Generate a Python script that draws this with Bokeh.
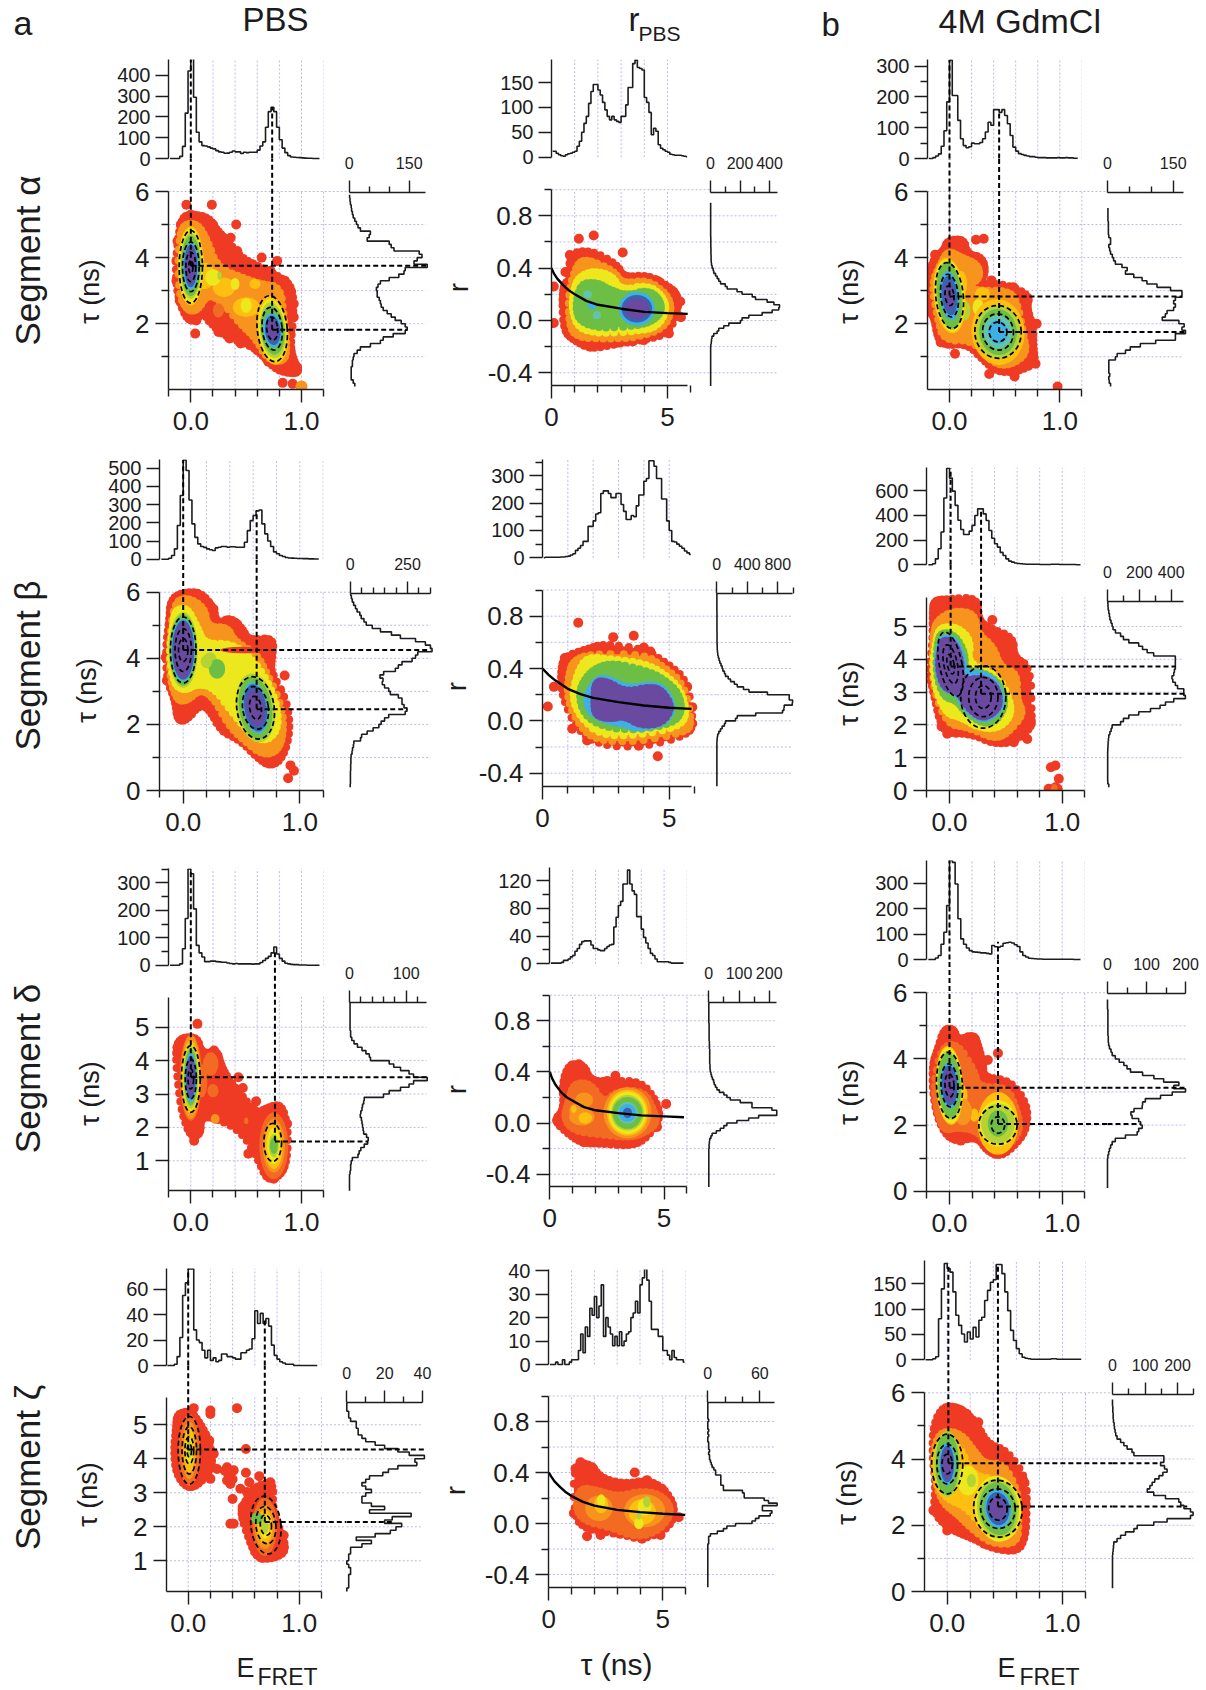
import math
import numpy as np
from bokeh.plotting import figure
from bokeh.models import Range1d, FixedTicker, Column
from bokeh.core.properties import value
from bokeh.embed import file_html
from bokeh.resources import INLINE

PALETTE = ["#EF3B24", "#F36B23", "#F7941E", "#FDC010", "#EDE81E", "#B5D334",
           "#6DBE45", "#62C4B0", "#3FB0E3", "#3A62B0", "#6A4AA0"]
FONT = "Liberation Sans"
GRID = "#b9b9ea"
INK = "#1c1c1c"

# ---------------------------------------------------------------- histograms
A1_top = [0,0,0,0,10,58,218,420,480,294,126,80,62,60,56,50,46,38,32,30,25,26,30,36,32,32,24,30,28,30,30,30,40,60,80,150,225,246,225,150,90,50,28,14,7,6,5,4,3,2,1,1,0,0,0]
A1_right = [14,10,5,5,5,5,8,8,10,12,20,28,53,78,85,110,140,145,140,130,115,105,95,85,80,78,75,70,70,68,72,78,100,124,137,140,195,162,170,182,175,112,105,100,45,50,53,28,22,18,14,10,8,6,5,3,2,1]
B1_top = [12,12,8,5,3,2,5,7,8,10,12,22,32,50,68,82,108,132,146,146,135,125,110,95,82,75,82,75,72,70,82,82,105,140,140,188,195,180,178,175,120,110,90,45,58,52,25,18,15,12,10,6,5,4,4,4,3,2,1]
B1_right = [1]*15 + [2,5,7,10,22,45,56,90,124,203,214,260,350,418,463,468,430,384,305,283,214,180,113,100,68,56,45,34,22,18,11,7,5,4,4,3,3,3,2,2,2,2,1,1,1,1,1,1,1,1,1,1,1,1,1]
C1_top = [0,0,3,8,15,40,90,184,320,205,205,124,64,42,35,38,50,48,48,52,64,86,118,108,159,159,150,159,140,113,75,37,24,16,13,10,8,6,6,4,3,3,3,2,2,2,2,3,2,2,3,2,2,1,1]
C1_right = [7,4,3,5,3,3,3,3,18,22,41,52,75,110,155,155,178,170,175,163,125,132,136,151,155,151,155,170,170,144,113,90,79,60,41,45,33,18,14,11,7,5,3,7,7,3,2,2,2,2,1,1,1,1]
A2_top = [0,0,0,5,20,57,185,350,545,487,325,194,120,84,70,65,57,52,48,62,66,70,70,66,68,68,66,66,66,93,157,212,240,265,270,194,139,100,70,40,30,20,15,9,7,6,5,4,4,3,3,2,2,1,1]
A2_right = [0,1,1,1,1,2,2,3,3,4,8,10,14,16,45,50,74,100,125,135,150,168,240,248,235,226,226,210,175,168,150,140,143,130,146,197,210,226,270,285,295,357,350,328,285,219,180,132,96,70,60,48,42,30,23,15,9,5,2]
B2_top = [0,2,2,2,2,2,2,3,3,5,6,10,15,27,35,45,60,60,115,115,135,160,165,235,245,245,235,220,220,235,235,195,170,140,140,155,150,190,230,230,280,290,355,355,335,290,290,215,215,135,100,60,58,50,42,35,25,18,12]
B2_right = [1]*17 + [3,6,12,26,48,70,100,114,246,268,510,862,880,884,990,994,950,950,664,422,350,268,230,180,150,114,100,80,70,55,40,30,20,13,9,6,5,4,3,3,3,3,2,2,2,2,2,2,2,2,1,1,1,1,1,1,1]
C2_top = [0,0,8,48,130,265,540,780,700,595,480,360,285,245,245,272,318,398,452,452,411,358,277,215,170,143,100,75,48,30,22,15,11,8,6,5,5,5,4,4,3,3,3,3,4,4,4,3,3,3,2,2,2,1,1]
C2_right = [8,2,1,1,1,1,1,1,1,1,1,2,3,4,6,8,15,23,29,82,100,134,196,270,330,364,416,489,479,479,440,426,410,405,416,420,426,426,426,426,290,249,220,196,134,100,82,50,35,29,22,15,12,8,4,3,2,1]
A3_top = [0,0,0,0,5,60,170,350,333,205,72,45,30,13,13,15,15,13,12,11,11,8,6,5,6,5,5,5,5,5,4,5,5,10,17,25,32,45,66,41,25,15,7,5,3,2,2,1,1,1,0,0,0,0,0]
A3_right = [0,0,0,0,0,1,2,2,3,5,15,17,20,26,32,33,30,25,24,23,22,21,19,20,22,23,25,26,60,70,90,105,113,137,113,105,90,78,70,37,35,29,22,14,8,4,2,2,1,1,1,1,1,1,1,1,1,1]
B3_top = [1,1,1,1,1,2,5,5,7,10,12,18,22,28,32,33,33,33,27,22,22,20,19,19,22,25,27,28,53,67,84,90,115,115,135,115,105,100,68,68,50,38,30,22,15,12,7,3,3,3,3,3,2,1,1,1,1,1,1]
B3_right = [0]*15 + [1,1,2,3,7,11,25,38,50,60,93,132,165,225,225,209,143,143,104,71,60,50,35,27,22,18,16,12,9,7,5,4,4,3,3,3,3,3,3,2,2,2,1,1,1,1,1,1,1,0,0,0,0,0,0,0,0,0]
C3_top = [0,0,0,6,16,60,107,212,390,382,297,160,81,60,45,35,30,29,28,26,26,24,22,55,50,48,52,64,66,68,65,58,51,30,16,10,5,4,3,2,2,1,1,1,1,1,1,1,1,1,1,1,0,0,0]
C3_right = [0,0,0,0,0,0,0,0,0,1,3,5,8,12,20,46,76,80,89,85,80,63,60,68,89,90,97,136,166,200,170,183,144,119,90,59,50,42,30,20,12,9,5,3,2,2,1,1,1,1,1,1,1,1,0,0,0]
A4_top = [0,0,0,1,7,22,55,65,76,76,28,20,18,12,6,12,4,6,3,4,9,9,7,7,6,5,5,10,10,12,13,21,43,33,41,33,37,31,16,8,5,3,2,1,1,1,0,0,0,0,0,0,0,0,0]
A4_right = [0,1,1,1,1,2,2,1,0,1,1,2,2,8,13,5,15,23,26,29,20,24,34,12,20,13,8,8,10,13,10,8,10,12,19,22,27,37,36,41,33,27,20,15,10,8,6,6,5,5,2,1,1,0,0,0,0]
B4_top = [0,0,0,1,0,0,2,0,0,1,2,2,2,6,13,5,16,12,24,21,29,20,25,34,12,20,16,13,8,12,8,14,8,10,13,14,20,22,27,22,34,37,41,36,27,15,15,15,12,12,6,6,4,2,6,3,2,2,2,1]
B4_right = [0]*17 + [1,1,1,3,11,18,22,32,51,55,59,72,74,63,63,80,70,65,42,42,40,18,18,15,15,15,15,9,9,7,5,4,3,2,2,1,2,1,1,1,0,0,1,0,1,0,0,0,1,0,0,0,0,0,0,0,0,0]
C4_top = [0,0,0,2,6,81,140,190,180,173,134,88,68,51,35,55,41,64,45,78,84,117,137,153,158,188,188,170,134,97,58,38,22,12,5,3,2,1,1,1,1,1,1,1,2,2,1,1,1,1,1,1,1,1,1]
C4_right = [0,0,0,0,0,0,0,0,0,0,1,2,3,4,14,25,40,66,76,127,168,240,248,240,220,210,204,163,127,107,115,122,130,143,155,168,160,148,158,158,66,60,45,35,25,14,10,8,6,5,3,2,2,1,1,0,0]

# ---------------------------------------------------------------- curves
B1_curve_t = [0,0.1,0.25,0.5,0.75,1,1.5,2,3,4,5,5.87]
B1_curve_r = [0.4,0.36,0.32,0.27,0.23,0.2,0.15,0.12,0.09,0.066,0.056,0.05]
B2_curve_t = [0,0.25,0.5,1,1.5,2,3,4,5,5.88]
B2_curve_r = [0.4,0.35,0.31,0.245,0.205,0.176,0.143,0.117,0.1,0.092]
B3_curve_t = [0,0.1,0.25,0.5,0.75,1,1.5,2,3,4,5,5.87]
B3_curve_r = [0.4,0.35,0.3,0.24,0.2,0.175,0.125,0.1,0.078,0.06,0.052,0.045]
B4_curve_t = [0,0.1,0.25,0.5,0.75,1,1.5,2,3,4,5,5.98]
B4_curve_r = [0.4,0.37,0.33,0.285,0.245,0.215,0.17,0.14,0.107,0.089,0.076,0.068]

# ---------------------------------------------------------------- density clouds
A1_polys = [(0,[(-.08,5.22),(.01,5.32),(.16,5.22),(.24,4.82),(.33,4.52),(.45,4.01),(.63,3.71),(.81,3.41),(.92,3.1),(.93,2.3),(.90,1.29),(.93,.89),(.98,.58),(.93,.48),(.78,.58),(.66,.99),(.57,1.29),(.33,1.59),(.21,1.9),(.09,2.4),(.06,2.1),(-.03,2.1),(-.11,2.7),(-.14,3.5),(-.12,4.52)]),
            (2,[(-.06,5.02),(.06,5.02),(.15,4.52),(.24,3.71),(.45,3.41),(.63,3.2),(.81,3.1),(.84,2.2),(.87,1.29),(.84,.84),(.69,.94),(.58,1.59),(.45,1.99),(.27,2.7),(.15,2.9),(.06,2.4),(-.03,2.4),(-.11,2.9),(-.11,4.52)])]
A1_spots = [(.12,3.45,.1,.4,3),(.3,3.1,.1,.3,3),(.5,2.5,.12,.3,3),(.2,3.4,.07,.25,4),(.4,3.2,.04,.18,4),(.5,2.55,.05,.22,4),(.26,3.45,.02,.12,5),(.25,2.4,.05,.22,1),(.58,3.2,.05,.15,3)]
A1_rings = [(0,3.75,0,[(3,.12,1.2),(4,.11,1.15),(5,.095,1.0),(6,.088,.92),(8,.07,.72),(9,.06,.65),(10,.05,.55)]),
            (.74,1.8,.1,[(3,.14,1.05),(4,.125,.95),(5,.115,.85),(6,.105,.74),(8,.085,.52),(9,.07,.45),(10,.05,.33)])]
A1_dots = [(-.04,5.6),(.19,5.6),(.41,5.0),(.64,4.0),(.78,3.9),(.04,1.7),(.83,.21),(.92,.18),(.96,.68),(.36,4.6),(.25,4.7),(.1,5.1),(.2,5.0),(.28,4.6),(.42,4.2),(.55,3.8),(.72,3.6),(.85,3.3),(.9,3.0),(.93,2.6),(.93,2.2),(.9,1.8),(.9,1.2),(.88,.95),(.8,.75),(.7,.85),(.6,1.2),(.45,1.4),(.35,1.55),(.25,1.75),(.17,2.1),(.1,2.5),(.05,2.1),(-.02,2.2),(-.1,2.7),(-.13,3.3),(-.13,3.9),(-.12,4.5),(-.09,5.0),(0,5.3)]
A1_hot = [(1.0,.1)]
A1_contours = [(0,3.72,0,[(.105,1.1),(.075,.75),(.045,.45),(.02,.2)]),(.735,1.85,.1,[(.135,1.0),(.09,.65),(.05,.35)])]
A1_vlines = [(0,3.75,474),(.735,1.82,246)]
A1_hlines = [(3.75,0,195),(1.82,.735,145)]

B1_polys = [(0,[(.75,.51),(1.68,.54),(2.82,.43),(3.11,.33),(4.13,.35),(5.06,.26),(5.42,.2),(5.49,.1),(5.06,-.1),(3.98,-.15),(2.82,-.18),(1.68,-.22),(.96,-.15),(.53,-.08),(.46,.15),(.53,.28),(.82,.31)]),
            (2,[(1.1,.43),(1.53,.47),(2.68,.38),(3.04,.28),(4.13,.31),(4.98,.2),(5.19,.08),(4.83,-.06),(3.68,-.13),(2.39,-.14),(1.1,-.13),(.75,-.03),(.75,.23)]),
            (4,[(1.18,.33),(1.82,.38),(2.61,.34),(2.97,.23),(4.13,.27),(4.76,.19),(4.97,.08),(4.54,-.05),(3.68,-.08),(2.11,-.1),(1.18,-.06),(.89,.08),(.96,.23)]),
            (6,[(1.25,.28),(1.96,.29),(2.54,.23),(3.25,.19),(4.13,.23),(4.62,.17),(4.76,.08),(4.4,0),(3.68,-.04),(2.11,-.06),(1.25,-.01),(1.03,.1)])]
B1_spots = [(1.56,.2,.18,.03,7),(1.75,.115,.2,.03,8),(1.96,.04,.18,.03,7)]
B1_rings = [(3.68,.09,0,[(8,.78,.13),(9,.66,.105),(10,.52,.08)])]
B1_dots = [(1.18,.625),(1.82,.65),(3.07,.52),(.79,.5),(.6,.37),(.1,.26),(.1,-.02),(5.55,.145),(5.58,.025),(1.68,-.2),(5.06,-.1),(4.13,.32),(2.54,.42),(.53,.15),(.67,-.08),(1.25,-.14),(2.82,-.17),(3.98,-.15),(5.19,.2),(2.11,.43),(1.39,.51),(4.6,.3),(3.4,.3),(3.5,-.16)]
B1_hot = []
B1_contours = []
B1_vlines = []
B1_hlines = []

C1_polys = [(0,[(-.02,4.52),(.13,4.57),(.16,4.11),(.3,4.01),(.33,3.51),(.25,3.2),(.52,3.2),(.73,2.85),(.7,2.5),(.76,1.9),(.76,1.29),(.78,.79),(.61,.54),(.43,.54),(.31,.89),(.16,1.39),(-.05,1.34),(-.11,1.59),(-.14,2.2),(-.19,2.4),(-.19,3.4),(-.14,4.01),(-.05,4.21)]),
            (2,[(-.01,4.21),(.1,4.01),(.25,3.81),(.28,3.41),(.16,3.11),(.25,3.0),(.52,3.0),(.61,2.7),(.67,1.69),(.7,1.09),(.55,.74),(.4,.79),(.22,1.49),(-.05,1.49),(-.11,2.2),(-.16,3.21),(-.08,3.81)])]
C1_spots = [(.26,2.5,.05,.25,4),(.14,2.4,.05,.3,5),(.3,2.9,.07,.2,3),(.1,3.2,.06,.4,3)]
C1_rings = [(0,2.85,.1,[(3,.145,1.15),(4,.135,1.1),(5,.12,1.05),(6,.11,1.0),(8,.085,.75),(9,.07,.6),(10,.045,.4)]),
            (.44,1.75,.1,[(3,.24,1.0),(5,.2,.82),(6,.17,.7),(7,.13,.5),(8,.09,.36)])]
C1_dots = [(-.13,4.09),(.31,4.57),(.24,4.54),(.38,3.31),(.79,2.0),(.05,1.09),(.36,.48),(.59,.4),(.78,.79),(.98,.1),(.7,2.75),(.58,3.1),(.3,3.81),(.13,4.4),(-.19,2.43),(-.08,1.44)]
C1_hot = []
C1_contours = [(0,2.85,.1,[(.125,1.0),(.08,.65),(.04,.3)]),(.44,1.75,.1,[(.21,.8),(.14,.55),(.08,.3)])]
C1_vlines = [(0,2.85,320),(.45,1.75,159)]
C1_hlines = [(2.82,0,170),(1.75,.45,178)]

A2_polys = [(0,[(-.11,5.75),(-.01,6.0),(.15,6.0),(.26,5.54),(.29,5.04),(.41,5.24),(.51,4.89),(.56,4.54),(.78,4.64),(.76,3.93),(.75,3.63),(.89,2.72),(.92,1.81),(.86,1.01),(.75,.71),(.63,1.01),(.49,1.51),(.32,1.81),(.23,2.42),(.15,2.62),(.03,2.12),(-.05,2.12),(-.07,2.72),(-.14,3.33),(-.15,4.33),(-.12,5.14)]),
            (2,[(-.08,5.65),(.03,5.85),(.18,5.54),(.21,4.94),(.38,4.94),(.43,4.54),(.63,4.13),(.72,3.53),(.85,2.52),(.86,1.71),(.81,1.21),(.69,1.06),(.52,1.51),(.38,2.02),(.26,2.82),(.15,3.07),(.03,2.72),(-.05,2.72),(-.11,3.33),(-.12,4.33)]),
            (4,[(-.07,5.44),(.03,5.54),(.12,4.94),(.18,4.44),(.41,4.44),(.58,4.03),(.72,3.33),(.81,2.52),(.81,1.81),(.69,1.46),(.55,1.81),(.41,2.42),(.26,3.13),(.12,3.23),(.01,3.02),(-.08,3.23),(-.12,4.13),(-.09,4.94)])]
A2_spots = [(.23,3.93,.06,.25,5),(.29,3.68,.07,.3,6),(.2,3.9,.05,.2,5),(.5,4.25,.18,.1,0)]
A2_rings = [(0,4.25,0,[(5,.125,1.15),(6,.115,1.08),(8,.1,.95),(9,.095,.9),(10,.085,.85)]),
            (.62,2.5,.15,[(5,.165,1.05),(6,.14,.95),(8,.105,.78),(9,.095,.72),(10,.075,.55)])]
A2_dots = [(-.02,2.22),(.87,3.48),(.89,1.71),(.92,.76),(.95,.6),(.9,.37),(.63,4.54),(.72,4.54),(-.01,2.17),(.12,5.95),(.22,5.65),(.38,5.14),(.46,5.04),(.26,5.49),(.83,3.0),(.85,2.52),(.76,.86),(.86,1.41),(-.15,4.03),(-.14,3.33),(-.11,5.09),(.35,1.81)]
A2_hot = []
A2_contours = [(0,4.25,0,[(.11,1.0),(.07,.65),(.04,.35)]),(.62,2.5,.15,[(.16,.95),(.11,.65),(.05,.35)])]
A2_vlines = [(0,4.25,545),(.63,2.47,270)]
A2_hlines = [(4.25,0,350),(2.46,.63,248)]

B2_polys = [(0,[(.84,.49),(1.76,.55),(2.42,.59),(4.0,.55),(4.92,.44),(5.71,.31),(5.97,-.02),(5.71,-.11),(4.0,-.2),(2.29,-.19),(1.37,-.07),(.78,.18),(.71,.36)]),
            (2,[(1.24,.46),(1.89,.51),(4.0,.51),(4.79,.41),(5.58,.28),(5.91,-.02),(5.58,-.09),(3.74,-.16),(2.16,-.15),(1.5,-.05),(.97,.16),(1.04,.36)]),
            (4,[(1.76,.49),(2.82,.47),(4.0,.44),(4.79,.36),(5.45,.24),(5.71,.05),(5.32,-.05),(3.74,-.11),(2.29,-.11),(1.5,.03),(1.17,.18),(1.37,.36)]),
            (6,[(2.16,.41),(2.82,.44),(4.0,.39),(4.79,.32),(5.38,.21),(5.51,.07),(5.12,-.02),(3.74,-.07),(2.42,-.05),(1.63,.05),(1.43,.21),(1.7,.33)]),
            (8,[(2.16,.32),(2.55,.32),(3.47,.245),(4.26,.28),(4.79,.245),(5.18,.105),(4.79,-.02),(3.74,-.06),(3.21,-.02),(2.55,0),(1.89,.065),(1.7,.18)]),
            (10,[(2.09,.3),(2.55,.3),(3.28,.22),(4.26,.26),(4.72,.23),(5.12,.105),(4.72,-.02),(3.87,-.035),(3.21,.04),(2.68,.015),(2.09,.04),(2.03,.155)])]
B2_spots = []
B2_rings = []
B2_dots = [(1.41,.75),(2.79,.64),(3.6,.65),(.88,.48),(4.0,.56),(4.26,.53),(4.95,.41),(.21,.11),(.45,.26),(1.17,-.06),(4.55,-.27),(5.71,.26),(5.91,.105),(5.91,-.02),(3.8,-.19),(2.95,-.15),(1.76,-.15),(.84,.36),(.97,.18)]
B2_hot = []
B2_contours = []
B2_vlines = []
B2_hlines = []

C2_polys = [(0,[(-.14,5.79),(-.02,5.84),(.25,5.89),(.26,5.18),(.34,4.98),(.57,4.67),(.57,4.07),(.72,3.76),(.73,2.24),(.73,1.93),(.57,1.47),(.39,1.42),(.19,1.73),(-.02,1.73),(-.09,2.14),(-.14,2.95),(-.18,3.56),(-.15,4.57),(-.15,5.39)]),
            (2,[(-.11,5.18),(.04,5.49),(.22,5.39),(.25,4.78),(.39,4.37),(.45,3.76),(.6,3.56),(.6,2.74),(.66,2.34),(.51,1.73),(.39,1.58),(.16,1.93),(-.02,2.03),(-.14,3.05),(-.15,4.06),(-.14,4.78)]),
            (4,[(-.08,4.98),(.07,4.98),(.19,4.57),(.16,3.86),(.42,3.56),(.54,2.74),(.54,2.24),(.42,1.88),(.25,1.93),(.1,2.24),(-.02,2.34),(-.11,2.95),(-.15,3.76),(-.12,4.57)]),
            (6,[(-.07,4.83),(.05,4.73),(.14,4.17),(.13,3.66),(.3,3.61),(.45,3.25),(.5,2.64),(.42,2.13),(.3,2.03),(.14,2.39),(.07,2.74),(-.05,2.85),(-.12,3.56),(-.11,4.47)]),
            (8,[(-.05,4.67),(.05,4.57),(.11,4.06),(.13,3.56),(.3,3.56),(.42,3.25),(.47,2.64),(.39,2.29),(.28,2.15),(.14,2.54),(.07,3.0),(-.05,3.1),(-.11,3.76),(-.09,4.37)]),
            (10,[(-.05,4.6),(.04,4.51),(.1,3.96),(.1,3.35),(.29,3.43),(.41,3.2),(.45,2.64),(.38,2.34),(.28,2.21),(.16,2.54),(.08,3.03),(-.05,3.13),(-.1,3.76),(-.08,4.32)])]
C2_spots = [(.93,.05,.03,.15,1)]
C2_rings = []
C2_dots = [(.38,5.2),(.54,4.57),(.48,4.62),(-.07,5.69),(.22,5.74),(.16,5.69),(-.07,1.95),(-.02,1.73),(.57,1.47),(.69,1.57),(.69,2.29),(.69,1.98),(.94,.76),(.9,.71),(.94,.1),(.96,.05),(.88,.05),(.69,3.4),(.63,3.91),(.57,1.98),(.97,.36)]
C2_hot = []
C2_contours = [(.01,3.85,.2,[(.1,1.0),(.06,.6),(.03,.3)]),(.3,2.85,0,[(.2,.95),(.13,.6),(.07,.35)])]
C2_vlines = [(.01,3.8,780),(.28,2.95,452)]
C2_hlines = [(3.78,.01,426),(2.95,.28,489)]

A3_polys = [(0,[(-.08,4.7),(.06,4.7),(.1,4.2),(.24,4.3),(.27,3.9),(.33,3.5),(.45,3.0),(.6,2.4),(.69,2.6),(.82,2.7),(.88,2.0),(.87,1.0),(.81,.55),(.69,.4),(.6,1.1),(.45,1.9),(.21,2.3),(.09,2.3),(.09,1.8),(0,1.7),(-.08,2.4),(-.12,3.4),(-.14,4.4)])]
A3_spots = [(.18,3.9,.07,.35,1),(.2,3.1,.05,.2,1),(.22,2.25,.04,.15,2),(.5,2.2,.02,.1,1),(.1,3.4,.05,.5,1)]
A3_rings = [(0,3.5,0,[(1,.1,1.3),(2,.09,1.25),(3,.085,1.1),(4,.075,1.0),(5,.07,.95),(6,.06,.85),(8,.05,.75),(9,.045,.65),(10,.035,.55)]),
            (.75,1.45,0,[(1,.13,1.0),(2,.1,.8),(3,.08,.7),(4,.06,.55),(5,.045,.35),(6,.035,.25)])]
A3_dots = [(.06,5.1),(.03,1.6),(.43,3.5),(.47,3.18),(.59,2.78),(.52,1.21),(.21,2.31),(.22,2.86),(.09,4.3),(.21,4.3),(.39,2.7),(.57,2.21),(.75,.46),(.87,2.11),(-.06,4.4),(-.12,4.4)]
A3_hot = []
A3_contours = [(0,3.45,0,[(.085,1.0),(.05,.6),(.025,.3)]),(.74,1.55,0,[(.08,.57)])]
A3_vlines = [(0,3.5,350),(.76,1.6,50)]
A3_hlines = [(3.5,0,137),(1.58,.76,33)]

B3_polys = [(0,[(.83,.46),(1.49,.46),(1.78,.33),(2.65,.33),(3.97,.33),(4.69,.17),(4.84,.02),(4.11,-.14),(3.38,-.18),(2.22,-.16),(1.49,-.16),(.9,-.1),(.17,.02),(.61,.1),(.54,.31)]),
            (1,[(1.05,.31),(1.78,.31),(2.36,.15),(2.94,.25),(4.11,.25),(4.55,.1),(4.69,-.01),(3.97,-.09),(3.38,-.11),(2.22,-.09),(1.05,-.06),(.61,.04),(.83,.17)])]
B3_spots = [(1.4,.05,.55,.07,2),(1.5,.18,.4,.06,2),(1.1,.1,.25,.05,2),(1.55,.04,.3,.045,3),(1.05,.11,.12,.03,3)]
B3_rings = [(3.4,.08,0,[(2,1.05,.2),(3,.9,.18),(4,.82,.165),(5,.72,.14),(6,.65,.125),(7,.45,.085),(8,.38,.07),(9,.2,.04)])]
B3_dots = [(2.87,.37),(5.09,.15),(.32,.02),(1.27,.46),(.98,.45),(.69,.31),(1.49,-.15),(2.22,-.15),(3.38,-.15),(4.69,-.03),(4.69,.07),(2.51,.33)]
B3_hot = []
B3_contours = []
B3_vlines = []
B3_hlines = []

C3_polys = [(0,[(-.05,4.91),(.04,4.91),(.07,4.56),(.22,4.76),(.26,4.35),(.3,3.85),(.3,3.45),(.54,3.35),(.69,2.64),(.69,1.94),(.6,1.44),(.45,1.03),(.33,1.23),(.25,1.63),(.1,1.53),(-.02,1.63),(-.11,2.24),(-.15,3.05),(-.15,3.85),(-.11,4.25)]),
            (1,[(-.07,4.35),(.07,4.46),(.22,3.65),(.25,3.15),(.51,3.15),(.6,2.44),(.63,1.83),(.51,1.33),(.36,1.28),(.25,1.83),(.07,1.94),(-.05,1.83),(-.11,2.44),(-.14,3.25)])]
C3_spots = [(.22,2.3,.04,.2,3),(.12,2.9,.04,.3,3),(.12,2.4,.08,.4,2)]
C3_rings = [(0,3.2,.05,[(3,.12,1.2),(4,.115,1.15),(5,.105,1.05),(6,.1,.98),(8,.08,.7),(9,.07,.6),(10,.05,.5)]),
            (.43,2.05,0,[(3,.18,.95),(4,.165,.7),(5,.15,.6),(6,.09,.4)])]
C3_dots = [(-.01,4.81),(.22,4.61),(.23,4.35),(.34,3.97),(.43,4.17),(.66,2.54),(.63,1.68),(.45,1.18),(.05,1.58),(.1,1.53),(.51,3.25),(.33,3.25),(.07,4.56)]
C3_hot = []
C3_contours = [(0,3.2,.05,[(.115,1.0),(.075,.65),(.04,.35)]),(.43,2,0,[(.17,.58),(.06,.25)])]
C3_vlines = [(0,3.15,390),(.43,2.03,70)]
C3_hlines = [(3.13,0,200),(2.03,.43,85)]

A4_polys = [(0,[(-.1,5.32),(.02,5.42),(.11,5.03),(.19,4.54),(.23,3.85),(.11,3.26),(-.01,3.12),(-.11,3.56),(-.13,4.25),(-.11,4.93)]),
            (0,[(.59,3.17),(.77,3.36),(.76,2.48),(.83,1.89),(.89,1.3),(.77,1.06),(.62,1.06),(.55,1.6),(.47,2.38),(.5,2.68)])]
A4_spots = []
A4_rings = [(.01,4.25,0,[(1,.1,1.05),(2,.07,.85),(3,.05,.65),(4,.03,.4),(5,.02,.25)]),
            (.69,2.0,0,[(1,.11,.85),(2,.09,.65),(3,.07,.5),(4,.04,.35),(5,.035,.2)])]
A4_dots = [(.05,5.49),(.2,5.42),(.44,5.49),(.2,5.32),(.52,4.29),(.2,3.41),(.19,4.54),(.23,4.15),(.22,3.75),(.26,3.7),(.35,3.75),(.41,3.66),(.35,3.36),(.38,3.26),(.52,3.59),(.64,3.49),(.55,3.31),(.47,3.12),(.53,3.02),(.4,2.82),(.49,2.58),(.38,2.09),(.41,2.09),(.86,1.75),(.85,1.3),(.66,1.09),(.74,3.31),(.17,3.75),(.36,3.55),(.4,3.4),(.38,3.6),(.33,3.65)]
A4_hot = [(.62,2.25)]
A4_contours = [(.01,4.25,0,[(.1,1.0),(.065,.7),(.04,.4),(.02,.2)]),(.7,2.05,.1,[(.135,.85),(.09,.55),(.05,.3)])]
A4_vlines = [(0,4.25,76),(.69,2.15,37)]
A4_hlines = [(4.27,0,41),(2.14,.69,24)]

B4_polys = [(0,[(1.1,.47),(1.83,.47),(2.27,.36),(3.29,.31),(4.31,.34),(5.04,.28),(5.56,.13),(5.34,-.03),(4.17,-.13),(3.0,-.08),(1.68,-.05),(1.1,.05)]),
            (1,[(1.39,.28),(2.12,.26),(3.0,.21),(4.17,.26),(5.04,.21),(5.41,.1),(4.9,-.05),(3.87,-.11),(2.7,-.03),(1.54,.02),(1.17,.13)])]
B4_spots = [(2.2,.12,.6,.1,2),(4.2,.1,.9,.13,2),(2.3,.15,.3,.07,3),(4.1,.09,.6,.1,3),(2.3,.18,.18,.05,4),(4.2,.13,.3,.07,4),(3.95,0,.2,.045,4),(4.3,.17,.17,.045,5),(3.95,.06,.1,.03,5)]
B4_rings = []
B4_dots = [(1.39,.48),(1.17,.43),(1.9,.44),(4.31,.34),(3.77,.4),(1.1,.08),(1.68,-.1),(2.27,-.09),(4.09,-.12),(5.7,.05),(4.9,-.09),(4.97,.27),(5.34,.13),(1.54,.36),(2.7,.31),(3.0,-.07)]
B4_hot = []
B4_contours = []
B4_vlines = []
B4_hlines = []

C4_polys = [(0,[(-.03,5.61),(.09,5.56),(.16,5.41),(.26,5.06),(.35,4.46),(.52,4.26),(.69,3.4),(.69,2.45),(.68,1.64),(.61,1.19),(.4,1.29),(.26,1.54),(.12,1.74),(0,1.94),(-.12,2.39),(-.1,3.24),(-.13,4.14),(-.12,5.06)]),
            (2,[(-.04,4.86),(.12,4.76),(.23,4.26),(.32,3.85),(.49,3.85),(.61,3.05),(.62,2.24),(.61,1.44),(.38,1.44),(.2,1.94),(.09,2.34),(-.03,2.65),(-.1,3.25),(-.12,4.36)]),
            (3,[(-.06,4.56),(.12,4.36),(.2,3.55),(.43,3.35),(.58,2.85),(.61,1.94),(.49,1.64),(.35,1.74),(.17,2.55),(0,2.8),(-.09,3.25),(-.12,3.95)])]
C4_spots = [(.18,3.35,.09,.45,4),(.21,3.35,.04,.2,5)]
C4_rings = [(0,3.85,0,[(5,.115,1.0),(6,.1,.95),(8,.07,.65),(9,.06,.55),(10,.045,.45)]),
            (.44,2.5,.12,[(4,.2,1.0),(5,.18,.9),(6,.16,.8),(8,.115,.6),(9,.1,.5),(10,.07,.35)])]
C4_dots = [(.27,5.11),(.32,4.41),(.17,5.36),(.09,5.36),(.66,3.35),(.68,2.65),(-.09,4.96),(-.12,2.45),(0,1.84),(.12,1.79),(.49,1.29),(.32,1.44),(.66,1.94)]
C4_hot = []
C4_contours = [(0,3.85,0,[(.135,.9),(.09,.6),(.045,.3)]),(.44,2.5,.12,[(.21,.86),(.15,.6),(.08,.35)])]
C4_vlines = [(.01,3.87,190),(.44,2.57,188)]
C4_hlines = [(3.87,.01,148),(2.57,.44,230)]

# ---------------------------------------------------------------- ticks
E_TICKS = ([0, 1], [-.2, .2, .4, .6, .8, 1.2], {0: "0.0", 1: "1.0"})
E_GRID = [0, .2, .4, .6, .8, 1, 1.2]
T_TICKS = ([0, 5], [1, 2, 3, 4, 6], {0: "0", 5: "5"})
T_GRID = [1, 2, 3, 4, 5, 6]
R_TICKS = ([.8, .4, 0, -.4], [1, .6, .2, -.2], {.8: "0.8", .4: "0.4", 0: "0.0", -.4: "-0.4"})
R_GRID = [1, .8, .6, .4, .2, 0, -.2, -.4]
TAU_EVEN = ([0, 2, 4, 6], [1, 3, 5], {0: "0", 2: "2", 4: "4", 6: "6"})
TAU_05 = ([0, 1, 2, 3, 4, 5], [], {i: str(i) for i in range(6)})
TAU_15 = ([1, 2, 3, 4, 5], [], {i: str(i) for i in range(1, 6)})
TAU_GRID = [1, 2, 3, 4, 5, 6]

def counts(major, minor=()):
    return (major, list(minor), {v: str(v) for v in major})

PANELS = [
 dict(n="A1", x=(0,190.3,1,301), xlim=(-.2,1.2), y=(0,389.3,6,191), ylim=(0,6), xt=E_TICKS, xg=E_GRID, yt=TAU_EVEN, yg=TAU_GRID,
      h=(0,158,400,74.7), htop=59.3, hs=-.2, hd=.025, ht=counts([0,100,200,300,400]),
      r=(0,348.7,150,408.7), rend=425.3, rY=192.3, rs=.1, rd=.1, rt=counts([0,150],[50,100]),
      top=A1_top, right=A1_right, P=(A1_polys,A1_spots,A1_rings,A1_dots,A1_hot,A1_contours,A1_vlines,A1_hlines)),
 dict(n="B1", x=(0,551,5,667), xlim=(0,5.87), y=(.8,215.3,-.4,372.3), ylim=(-.5,1), xt=T_TICKS, xg=T_GRID, yt=R_TICKS, yg=R_GRID,
      h=(0,156.7,150,82), htop=59.3, hs=0, hd=.1, ht=counts([0,50,100,150]),
      r=(0,710,400,769), rend=776.7, rY=192.3, rs=-.5, rd=.02, rt=counts([0,200,400],[100,300]),
      top=B1_top, right=B1_right, curve=(B1_curve_t,B1_curve_r), P=(B1_polys,B1_spots,B1_rings,B1_dots,B1_hot,B1_contours,B1_vlines,B1_hlines)),
 dict(n="C1", x=(0,949,1,1059.3), xlim=(-.2,1.2), y=(0,389.3,6,191), ylim=(0,6), xt=E_TICKS, xg=E_GRID, yt=TAU_EVEN, yg=TAU_GRID,
      h=(0,158,300,65.7), htop=59.3, hs=-.2, hd=.025, ht=counts([0,100,200,300],[50,150,250]),
      r=(0,1107,150,1172.7), rend=1183.3, rY=192.3, rs=.1, rd=.1, rt=counts([0,150],[50,100]),
      top=C1_top, right=C1_right, P=(C1_polys,C1_spots,C1_rings,C1_dots,C1_hot,C1_contours,C1_vlines,C1_hlines)),
 dict(n="A2", x=(0,182.7,1,299.3), xlim=(-.2,1.2), y=(0,790,6,591.7), ylim=(0,6), xt=E_TICKS, xg=E_GRID, yt=TAU_EVEN, yg=TAU_GRID,
      h=(0,558.7,500,467.7), htop=459.3, hs=-.2, hd=.025, ht=counts([0,100,200,300,400,500]),
      r=(0,349.7,250,407), rend=430, rY=593.3, rs=.1, rd=.1, rt=counts([0,250],[50,100,150,200,300,350]),
      top=A2_top, right=A2_right, P=(A2_polys,A2_spots,A2_rings,A2_dots,A2_hot,A2_contours,A2_vlines,A2_hlines)),
 dict(n="B2", x=(0,542,5,668.7), xlim=(0,5.88), y=(.8,615.7,-.4,772.7), ylim=(-.5,1), xt=T_TICKS, xg=T_GRID, yt=R_TICKS, yg=R_GRID,
      h=(0,557.3,300,475.3), htop=459.3, hs=0, hd=.1, ht=counts([0,100,200,300],[50,150,250,350]),
      r=(0,716.3,800,777.3), rend=791.7, rY=593.3, rs=-.5, rd=.02, rt=counts([0,400,800],[200,600,1000]),
      top=B2_top, right=B2_right, curve=(B2_curve_t,B2_curve_r), P=(B2_polys,B2_spots,B2_rings,B2_dots,B2_hot,B2_contours,B2_vlines,B2_hlines)),
 dict(n="C2", x=(0,949,1,1061.7), xlim=(-.2,1.2), y=(0,790,5,626), ylim=(0,5.89), xt=E_TICKS, xg=E_GRID, yt=TAU_05, yg=[1,2,3,4,5],
      h=(0,564.3,600,490), htop=467.3, hs=-.2, hd=.025, ht=counts([0,200,400,600]),
      r=(0,1107,400,1170.7), rend=1183.3, rY=601, rs=.1, rd=.1, rt=counts([0,200,400],[100,300]),
      top=C2_top, right=C2_right, P=(C2_polys,C2_spots,C2_rings,C2_dots,C2_hot,C2_contours,C2_vlines,C2_hlines)),
 dict(n="A3", x=(0,190.3,1,301), xlim=(-.2,1.2), y=(1,1160.3,5,1026.7), ylim=(.11,5.9), xt=E_TICKS, xg=E_GRID, yt=TAU_15, yg=[1,2,3,4,5],
      h=(0,964.7,300,882.3), htop=868.3, hs=-.2, hd=.025, ht=counts([0,100,200,300],[50,150,250,350]),
      r=(0,349,100,405.7), rend=425.7, rY=1001.7, rs=.1, rd=.1, rt=counts([0,100],[20,40,60,80,120]),
      top=A3_top, right=A3_right, P=(A3_polys,A3_spots,A3_rings,A3_dots,A3_hot,A3_contours,A3_vlines,A3_hlines)),
 dict(n="B3", x=(0,549.3,5,663.6), xlim=(0,6), y=(.8,1020.3,-.4,1173.7), ylim=(-.5,1), xt=T_TICKS, xg=T_GRID, yt=R_TICKS, yg=R_GRID,
      h=(0,963.3,120,880), htop=867.3, hs=0, hd=.1, ht=counts([0,40,80,120],[20,60,100]),
      r=(0,708.3,200,768.7), rend=775.7, rY=1001.7, rs=-.5, rd=.02, rt=counts([0,100,200],[50,150]),
      top=B3_top, right=B3_right, curve=(B3_curve_t,B3_curve_r), P=(B3_polys,B3_spots,B3_rings,B3_dots,B3_hot,B3_contours,B3_vlines,B3_hlines)),
 dict(n="C3", x=(0,949,1,1061.7), xlim=(-.2,1.2), y=(0,1190.7,6,992.3), ylim=(0,6), xt=E_TICKS, xg=E_GRID, yt=TAU_EVEN, yg=TAU_GRID,
      h=(0,959,300,882.7), htop=860, hs=-.2, hd=.025, ht=counts([0,100,200,300]),
      r=(0,1107,200,1185), rend=1185, rY=993.3, rs=.1, rd=.1, rt=counts([0,100,200],[50,150]),
      top=C3_top, right=C3_right, P=(C3_polys,C3_spots,C3_rings,C3_dots,C3_hot,C3_contours,C3_vlines,C3_hlines)),
 dict(n="A4", x=(0,187.7,1,298.7), xlim=(-.2,1.2), y=(1,1560.3,5,1424.3), ylim=(.106,5.8), xt=E_TICKS, xg=E_GRID, yt=TAU_15, yg=[1,2,3,4,5],
      h=(0,1365,60,1288.7), htop=1268.3, hs=-.2, hd=.025, ht=counts([0,20,40,60]),
      r=(0,346.3,40,422), rend=422, rY=1402.3, rs=.1, rd=.1, rt=counts([0,20,40],[10,30]),
      top=A4_top, right=A4_right, P=(A4_polys,A4_spots,A4_rings,A4_dots,A4_hot,A4_contours,A4_vlines,A4_hlines)),
 dict(n="B4", x=(0,548.3,5,662.3), xlim=(0,6), y=(.8,1421,-.4,1574), ylim=(-.5,1), xt=T_TICKS, xg=T_GRID, yt=R_TICKS, yg=R_GRID,
      h=(0,1364,40,1270.3), htop=1269.3, hs=0, hd=.1, ht=counts([0,10,20,30,40]),
      r=(0,707.3,60,759.3), rend=774.3, rY=1401.7, rs=-.5, rd=.02, rt=counts([0,60],[20,40]),
      top=B4_top, right=B4_right, curve=(B4_curve_t,B4_curve_r), P=(B4_polys,B4_spots,B4_rings,B4_dots,B4_hot,B4_contours,B4_vlines,B4_hlines)),
 dict(n="C4", x=(0,946.7,1,1062), xlim=(-.2,1.2), y=(0,1591,6,1392.3), ylim=(0,6), xt=E_TICKS, xg=E_GRID, yt=TAU_EVEN, yg=TAU_GRID,
      h=(0,1359.3,150,1283.3), htop=1260, hs=-.2, hd=.025, ht=counts([0,50,100,150]),
      r=(0,1112,200,1177), rend=1192.7, rY=1394, rs=.1, rd=.1, rt=counts([0,100,200],[50,150,250]),
      top=C4_top, right=C4_right, P=(C4_polys,C4_spots,C4_rings,C4_dots,C4_hot,C4_contours,C4_vlines,C4_hlines)),
]

figs = []

def to_px(a, v):
    return a[1] + (v - a[0]) * (a[3] - a[1]) / (a[2] - a[0])

def to_val(a, p):
    return a[0] + (p - a[1]) * (a[2] - a[0]) / (a[3] - a[1])

def place(p, left, top):
    p.styles = {"position": "absolute", "left": f"{left}px", "top": f"{top}px"}
    figs.append(p)

def base(xr, yr, fw, fh, ml, mr, mt, mb, **kw):
    p = figure(x_range=xr, y_range=yr, frame_width=fw, frame_height=fh, width=fw + ml + mr, height=fh + mt + mb,
               min_border_left=ml, min_border_right=mr, min_border_top=mt, min_border_bottom=mb,
               output_backend="svg", toolbar_location=None, background_fill_color=None, border_fill_color=None,
               outline_line_color=None, frame_align=False, **kw)
    p.xgrid.visible = False
    p.ygrid.visible = False
    return p

def style_axis(ax, t, bounds, size, standoff, out=13, mout=7):
    major, minor, labels = t
    ax.ticker = FixedTicker(ticks=major, minor_ticks=minor)
    ax.major_label_overrides = labels
    ax.bounds = bounds
    ax.axis_line_color = INK
    ax.axis_line_width = 1.4
    ax.major_tick_line_color = INK
    ax.major_tick_line_width = 1.4
    ax.minor_tick_line_color = INK
    ax.minor_tick_line_width = 1.4
    ax.major_tick_in = 0
    ax.major_tick_out = out
    ax.minor_tick_in = 0
    ax.minor_tick_out = mout
    ax.major_label_standoff = standoff
    ax.major_label_text_font = FONT
    ax.major_label_text_font_size = f"{size}px"
    ax.major_label_text_color = INK

def dotted(p, x0, y0, x1, y1):
    p.segment(x0, y0, x1, y1, line_color=GRID, line_width=1, line_dash="2 2")

def dash(p, x0, y0, x1, y1):
    p.segment([x0], [y0], [x1], [y1], line_color="black", line_width=2, line_dash="5 3")

def rounded(pts, passes=2):
    q = np.array(pts, dtype=float)
    for _ in range(passes):
        nxt = np.roll(q, -1, axis=0)
        q = np.column_stack([.75 * q + .25 * nxt, .25 * q + .75 * nxt]).reshape(-1, 2)
    return q

def build(c):
    xa, ya, ha, ra = c["x"], c["y"], c["h"], c["r"]
    xlo, xhi = c["xlim"]
    ylo, yhi = c["ylim"]
    L, R = round(to_px(xa, xlo)), round(to_px(xa, xhi))
    B = round(to_px(ya, ylo))
    hB, hT = round(ha[1]), round(c["htop"])
    rL, rR, rY = round(ra[1]), round(c["rend"]), round(c["rY"])
    polys, spots, rings, dots, hot, contours, vlines, hlines = c["P"]

    # ----- main panel: its frame reaches up to the top histogram and across to the side histogram
    xe = to_val(xa, rL)
    ye = to_val(ya, hB)
    p = base(Range1d(to_val(xa, L), xe), Range1d(to_val(ya, B), ye), rL - L, B - hB, 90, 6, 6, 60)
    style_axis(p.xaxis[0], c["xt"], (xlo, xhi), 26, 9)
    style_axis(p.yaxis[0], c["yt"], (ylo, yhi), 26, 6)
    gx = [v for v in c["xg"] if xlo <= v <= xhi]
    dotted(p, gx, [ylo] * len(gx), gx, [yhi] * len(gx))
    gy = [v for v in c["yg"] if ylo <= v <= yhi]
    dotted(p, [xlo] * len(gy), gy, [xe] * len(gy), gy)

    def patch(idx, pts):
        col = PALETTE[idx]
        q = rounded(pts)
        p.patch(q[:, 0], q[:, 1], fill_color=col, line_color=None)
        p.scatter(q[:, 0], q[:, 1], size=8, fill_color=col, line_color=None)

    def blob(x, y, rx, ry, idx, angle=0):
        p.ellipse([x], [y], width=[2 * rx], height=[2 * ry], angle=[angle], fill_color=PALETTE[idx], line_color=None)

    for idx, pts in polys:
        if idx == 0:
            patch(idx, pts)
    p.scatter([d[0] for d in dots], [d[1] for d in dots], size=10, fill_color=PALETTE[0], line_color=None)
    for idx, pts in polys:
        if idx != 0:
            patch(idx, pts)
    for x, y, rx, ry, idx in spots:
        blob(x, y, rx, ry, idx)
    for x, y, ang, levels in rings:
        for idx, rx, ry in levels:
            blob(x, y, rx, ry, idx, ang)
    if hot:
        p.scatter([d[0] for d in hot], [d[1] for d in hot], size=12,
                  fill_color=PALETTE[2 if c["n"] == "A1" else 6], line_color=None)
    for x, y, ang, levels in contours:
        for rx, ry in levels:
            p.ellipse([x], [y], width=[2 * rx], height=[2 * ry], angle=[ang], fill_color=None,
                      line_color="black", line_width=1.7, line_dash="5 3")
    if "curve" in c:
        p.line(c["curve"][0], c["curve"][1], line_color="black", line_width=2.4)
    for ex, ty, _ in vlines:
        dash(p, ex, ty, ex, ye)
    for ty, ex, _ in hlines:
        dash(p, ex, ty, xe, ty)
    place(p, L - 90, hB - 6)

    # ----- top histogram
    pad = 3
    hmax = to_val(ha, hT)
    h = base(Range1d(to_val(xa, L), to_val(xa, R)), Range1d(to_val(ha, hB + pad), hmax), R - L, hB + pad - hT, 90, 4, 14, 14)
    h.xaxis.visible = False
    style_axis(h.yaxis[0], c["ht"], (0, hmax), 20, 5)
    dotted(h, gx, [0] * len(gx), gx, [hmax] * len(gx))
    cx = [c["hs"] + (i + .5) * c["hd"] for i in range(len(c["top"]))]
    h.step(cx, c["top"], mode="center", line_color=INK, line_width=1.6)
    for ex, _, cnt in vlines:
        dash(h, ex, 0, ex, cnt)
    place(h, L - 90, hT - 14)

    # ----- side histogram
    rpad = 7
    rmax = to_val(ra, rR)
    s = base(Range1d(to_val(ra, rL - rpad), to_val(ra, rR + rpad)), Range1d(to_val(ya, B + 2), to_val(ya, rY)),
             rR - rL + 2 * rpad, B + 2 - rY, 24, 24, 44, 2, x_axis_location="above")
    s.yaxis.visible = False
    style_axis(s.xaxis[0], c["rt"], (0, rmax), 16, 12, out=12, mout=6)
    gy2 = [v for v in gy if to_px(ya, v) > rY]
    dotted(s, [0] * len(gy2), gy2, [rmax] * len(gy2), gy2)
    n = len(c["right"])
    ys = [c["rs"] + i * c["rd"] for i in range(n)]
    sx, sy = [], []
    for i in range(n):
        sx += [c["right"][i], c["right"][i]]
        sy += [ys[i], ys[i] + c["rd"]]
    s.line(sx, sy, line_color=INK, line_width=1.6)
    for ty, _, cnt in hlines:
        dash(s, 0, ty, cnt, ty)
    place(s, rL - rpad - 24, rY - 44)

# ---------------------------------------------------------------- texts
bg = figure(x_range=Range1d(0, 1206), y_range=Range1d(1690, 0), frame_width=1206, frame_height=1690, width=1206, height=1690,
            x_axis_type=None, y_axis_type=None, min_border=0, output_backend="svg", toolbar_location=None,
            background_fill_color=None, border_fill_color=None, outline_line_color=None, frame_align=False)
bg.styles = {"position": "absolute", "left": "0px", "top": "0px"}

def T(x, y, s, size, angle=0, align="left"):
    # the alphabetic baseline is drawn a little low in this backend
    off = .38 * size
    if angle:
        x -= off
    else:
        y -= off
    bg.text([x], [y], text=[s], angle=[angle], text_font=value(FONT), text_font_size=f"{size}px",
            text_color=INK, text_align=align, text_baseline="alphabetic")

UP = math.pi / 2
T(13, 35, "a", 34)
T(242, 32, "PBS", 33)
T(628, 32, "r", 33)
T(638, 41, "PBS", 21)
T(821, 37, "b", 33)
T(938, 33, "4M GdmCl", 34)
for yy, s in [(260, "Segment α"), (665, "Segment β"), (1068, "Segment δ"), (1467, "Segment ζ")]:
    T(40, yy, s, 35, UP, "center")
for xx, yy in [(100, 291), (97, 690), (100, 1093), (98, 1494), (859, 291), (859, 693), (859, 1092), (857, 1492)]:
    T(xx, yy, "τ (ns)", 27, UP, "center")
for xx, yy in [(468.7, 287), (467, 686), (467, 1089), (466, 1490)]:
    T(xx, yy, "r", 27, UP, "center")
T(236, 1678, "E", 27)
T(257, 1685, "FRET", 23)
T(997, 1678, "E", 27)
T(1019, 1685, "FRET", 23)
T(616, 1675, "τ (ns)", 30, 0, "center")

for c in PANELS:
    build(c)

root = Column(children=[bg] + figs, width=1206, height=1690,
              styles={"position": "absolute", "left": "0px", "top": "0px"})
open("out.html", "w").write(file_html(root, INLINE))
